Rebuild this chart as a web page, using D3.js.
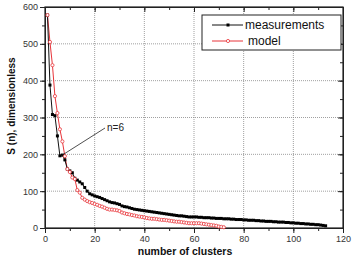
<!DOCTYPE html>
<html>
<head>
<meta charset="utf-8">
<script src="https://cdn.jsdelivr.net/npm/d3@7"></script>
<style>
  body { margin: 0; background: #fff; }
  text { font-family: "Liberation Sans", Arial, sans-serif; }
</style>
</head>
<body>
<div id="main"></div>
<script>
// measurements: S(n) for n = 1..113
const measN = d3.range(1, 114);
const measS = [578, 388, 308, 305, 250, 196, 198, 185, 160, 155,
    150, 135, 130, 125, 120, 110, 100, 93, 90, 87,
    85, 83, 80, 77, 74, 71, 69, 68, 66, 64,
    60, 58, 57, 55, 53, 51, 50, 49, 48, 47,
    46, 45, 44, 43, 42, 41, 40, 39, 38, 37,
    36, 35, 34, 33, 33, 32, 31, 30, 30, 30,
    30, 29, 29, 28, 28, 28, 27, 27, 26, 26,
    26, 25, 25, 25, 24, 24, 23, 23, 23, 22,
    22, 21, 21, 21, 20, 20, 19, 19, 18, 18,
    18, 17, 17, 16, 16, 16, 15, 15, 14, 14,
    13, 13, 12, 12, 11, 11, 10, 10, 9, 9,
    8, 7, 6];
// model: S(n) for n = 1..72
const modelN = d3.range(1, 73);
const modelS = [578, 505, 442, 358, 312, 268, 235, 195, 160, 152,
    137, 133, 103, 96, 82, 77, 73, 70, 68, 65,
    63, 60, 58, 55, 52, 50, 50, 49, 48, 46,
    42, 40, 38, 37, 35, 34, 32, 31, 30, 29,
    27, 26, 25, 25, 24, 23, 22, 22, 21, 20,
    19, 18, 17, 17, 16, 15, 14, 13, 13, 13,
    13, 13, 12, 11, 10, 9, 8, 7, 6, 4,
    3, 2];
const xTicks = [0, 20, 40, 60, 80, 100, 120];
const yTicks = [0, 100, 200, 300, 400, 500, 600];
const seriesNames = ["measurements", "model"];

const ctx = { w: 356, h: 259, left: 45, right: 343, top: 7, bottom: 228 };

const svg = d3.select("#main").append("svg")
    .attr("width", ctx.w).attr("height", ctx.h);

const x = d3.scaleLinear().domain([0, 120]).range([ctx.left, ctx.right]);
const y = d3.scaleLinear().domain([0, 600]).range([ctx.bottom, ctx.top]);

// grid
const grid = svg.append("g");
grid.selectAll("line.gx").data(xTicks.slice(1, -1)).enter().append("line")
    .attr("x1", d => x(d)).attr("x2", d => x(d))
    .attr("y1", ctx.top).attr("y2", ctx.bottom)
    .attr("stroke", "#888").attr("stroke-width", 0.8).attr("stroke-dasharray", "1,1");
grid.selectAll("line.gy").data(yTicks.slice(1, -1)).enter().append("line")
    .attr("x1", ctx.left).attr("x2", ctx.right)
    .attr("y1", d => y(d)).attr("y2", d => y(d))
    .attr("stroke", "#888").attr("stroke-width", 0.8).attr("stroke-dasharray", "1,1");

// axes
const minorX = d3.range(0, 121, 10), minorY = d3.range(0, 601, 50);
function styleAxis(g) {
    g.selectAll("path").attr("stroke", "#222");
    g.selectAll("line").attr("stroke", "#222");
    g.selectAll("text").attr("font-size", 9).attr("fill", "#333");
}
svg.append("g").attr("transform", `translate(0,${ctx.bottom})`)
    .call(d3.axisBottom(x).tickValues(minorX).tickSize(3).tickFormat(""))
    .call(styleAxis);
svg.append("g").attr("transform", `translate(0,${ctx.bottom})`)
    .call(d3.axisBottom(x).tickValues(xTicks).tickSize(5).tickPadding(3).tickSizeOuter(0))
    .call(styleAxis);
svg.append("g").attr("transform", `translate(${ctx.left},0)`)
    .call(d3.axisLeft(y).tickValues(minorY).tickSize(3).tickFormat(""))
    .call(styleAxis);
svg.append("g").attr("transform", `translate(${ctx.left},0)`)
    .call(d3.axisLeft(y).tickValues(yTicks).tickSize(5).tickPadding(2).tickSizeOuter(0))
    .call(styleAxis);
// mirrored inner ticks on top and right
svg.append("g").attr("transform", `translate(0,${ctx.top})`)
    .call(d3.axisBottom(x).tickValues(minorX).tickSize(3).tickFormat("").tickSizeOuter(0))
    .call(styleAxis);
svg.append("g").attr("transform", `translate(0,${ctx.top})`)
    .call(d3.axisBottom(x).tickValues(xTicks).tickSize(5).tickFormat("").tickSizeOuter(0))
    .call(styleAxis);
svg.append("g").attr("transform", `translate(${ctx.right},0)`)
    .call(d3.axisLeft(y).tickValues(minorY).tickSize(3).tickFormat("").tickSizeOuter(0))
    .call(styleAxis);
svg.append("g").attr("transform", `translate(${ctx.right},0)`)
    .call(d3.axisLeft(y).tickValues(yTicks).tickSize(5).tickFormat("").tickSizeOuter(0))
    .call(styleAxis);

svg.append("rect")
    .attr("x", ctx.left).attr("y", ctx.top)
    .attr("width", ctx.right - ctx.left).attr("height", ctx.bottom - ctx.top)
    .attr("fill", "none").attr("stroke", "#222").attr("stroke-width", 1.2);

// axis titles
svg.append("text")
    .attr("x", 185).attr("y", 255)
    .attr("text-anchor", "middle").attr("font-size", 10.5).attr("font-weight", "bold")
    .attr("fill", "#111")
    .text("number of clusters");
svg.append("text")
    .attr("transform", "translate(15,106) rotate(-90)")
    .attr("text-anchor", "middle").attr("font-size", 10).attr("font-weight", "bold")
    .attr("fill", "#111")
    .text("S (n), dimensionless");

// series
const meas = measN.map((n, i) => [n, measS[i]]);
const model = modelN.map((n, i) => [n, modelS[i]]);
const line = d3.line().x(d => x(d[0])).y(d => y(d[1]));

svg.append("path").datum(model).attr("d", line)
    .attr("fill", "none").attr("stroke", "#e8353a").attr("stroke-width", 1);
svg.append("path").datum(meas).attr("d", line)
    .attr("fill", "none").attr("stroke", "#111").attr("stroke-width", 1);

svg.append("g").selectAll("rect").data(meas).enter().append("rect")
    .attr("x", d => x(d[0]) - 1.5).attr("y", d => y(d[1]) - 1.5)
    .attr("width", 3).attr("height", 3).attr("fill", "#000");
svg.append("g").selectAll("circle").data(model).enter().append("circle")
    .attr("cx", d => x(d[0])).attr("cy", d => y(d[1])).attr("r", 1.6)
    .attr("fill", "#fff").attr("stroke", "#e8353a").attr("stroke-width", 0.8);

// annotation n=6
svg.append("line")
    .attr("x1", 105).attr("y1", 128).attr("x2", x(6.5)).attr("y2", y(196))
    .attr("stroke", "#222").attr("stroke-width", 0.8);
svg.append("text").attr("x", 107).attr("y", 131)
    .attr("font-size", 10).attr("fill", "#222").text("n=6");

// legend
const lg = svg.append("g");
lg.append("rect").attr("x", 202).attr("y", 15).attr("width", 139).attr("height", 35)
    .attr("fill", "#fff").attr("stroke", "#222").attr("stroke-width", 1);
const colors = ["#111", "#e8353a"];
seriesNames.forEach((name, i) => {
    const ly = 25 + i * 16;
    lg.append("line").attr("x1", 212).attr("x2", 243).attr("y1", ly).attr("y2", ly)
        .attr("stroke", colors[i]).attr("stroke-width", 1);
    if (i === 0) {
        lg.append("rect").attr("x", 226.5).attr("y", ly - 1.5).attr("width", 3).attr("height", 3)
            .attr("fill", "#000");
    } else {
        lg.append("circle").attr("cx", 228).attr("cy", ly).attr("r", 1.6)
            .attr("fill", "#fff").attr("stroke", colors[i]).attr("stroke-width", 0.8);
    }
    lg.append("text").attr("x", i === 0 ? 245 : 248).attr("y", ly + 4)
        .attr("font-size", 12).attr("fill", "#111").text(name);
});
</script>
</body>
</html>
